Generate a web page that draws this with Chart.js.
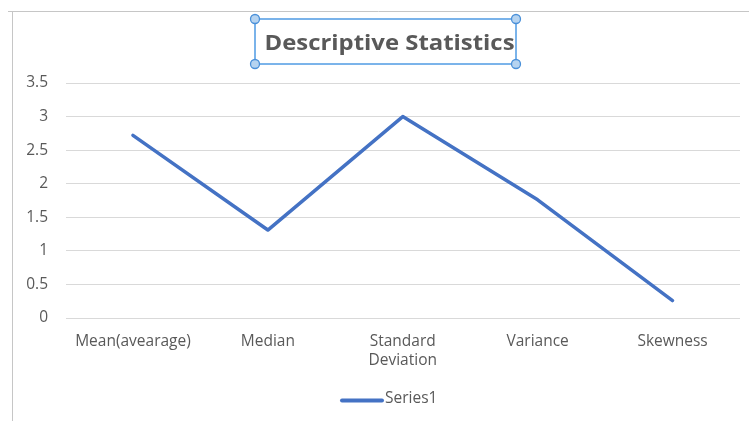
<!DOCTYPE html>
<html>
<head>
<meta charset="utf-8">
<script src="https://cdn.jsdelivr.net/npm/chart.js@4/dist/chart.umd.min.js"></script>
<style>
  html, body { margin: 0; padding: 0; background: #ffffff; }
  #wrap { width: 749px; height: 421px; position: relative; }
</style>
</head>
<body>
<div id="wrap"><canvas id="c" width="749" height="421"></canvas></div>
<script>
// Chart content
const chartTitle = 'Descriptive Statistics';
const categories = ['Mean(avearage)', 'Median', ['Standard', 'Deviation'], 'Variance', 'Skewness'];
const seriesName = 'Series1';
const seriesValues = [2.72, 1.31, 3.0, 1.76, 0.26];
const yTicks = [0, 0.5, 1, 1.5, 2, 2.5, 3, 3.5];

const labelColor = '#595959';
const lineColor = '#4472C4';
const fontFamily = '"Open Sans", "Noto Sans", sans-serif';
const tickFontSize = 15.5;

// Frame lines, the selected title box with its corner handles, and the legend
const frameAndTitle = {
  id: 'frameAndTitle',
  afterDraw(chart) {
    const ctx = chart.ctx;
    ctx.save();
    ctx.strokeStyle = '#c6c6c6';
    ctx.lineWidth = 1;
    ctx.beginPath();
    ctx.moveTo(8, 11.5);
    ctx.lineTo(749, 11.5);
    ctx.moveTo(12.5, 11.5);
    ctx.lineTo(12.5, 421);
    ctx.stroke();

    // title text, stretched slightly to span the box
    const cx = 389.5, cy = 43.5;
    ctx.fillStyle = labelColor;
    ctx.font = 'bold 22px ' + fontFamily;
    ctx.textAlign = 'center';
    ctx.textBaseline = 'middle';
    const w = ctx.measureText(chartTitle).width;
    const sx = 250 / w;
    ctx.save();
    ctx.translate(cx, cy);
    ctx.scale(sx, 1);
    ctx.fillText(chartTitle, 0, 0);
    ctx.restore();

    // selection rectangle
    const x0 = 255, x1 = 516, y0 = 19, y1 = 64;
    ctx.strokeStyle = '#4f9be3';
    ctx.lineWidth = 1.5;
    ctx.strokeRect(x0, y0, x1 - x0, y1 - y0);
    [[x0, y0], [x1, y0], [x0, y1], [x1, y1]].forEach(([hx, hy]) => {
      ctx.beginPath();
      ctx.arc(hx, hy, 4.5, 0, Math.PI * 2);
      ctx.fillStyle = '#b5d3f0';
      ctx.fill();
      ctx.lineWidth = 1.3;
      ctx.strokeStyle = '#4a90d9';
      ctx.stroke();
    });

    // legend: line sample followed by the series name
    const ds = chart.data.datasets[0];
    const ly = 399;
    ctx.strokeStyle = ds.borderColor;
    ctx.lineWidth = 4;
    ctx.lineCap = 'round';
    ctx.beginPath();
    ctx.moveTo(342, ly + 1.5);
    ctx.lineTo(382, ly + 1.5);
    ctx.stroke();
    ctx.fillStyle = labelColor;
    ctx.font = tickFontSize + 'px ' + fontFamily;
    ctx.textAlign = 'left';
    ctx.fillText(ds.label, 385, ly);
    ctx.restore();
  }
};

new Chart(document.getElementById('c'), {
  type: 'line',
  data: {
    labels: categories,
    datasets: [{
      label: seriesName,
      data: seriesValues,
      borderColor: lineColor,
      backgroundColor: lineColor,
      borderWidth: 3.5,
      borderCapStyle: 'round',
      borderJoinStyle: 'round',
      pointRadius: 0,
      pointHoverRadius: 0,
      tension: 0,
      fill: false
    }]
  },
  options: {
    responsive: false,
    animation: false,
    events: [],
    layout: { padding: { left: 12, right: 9, top: 83, bottom: 43 } },
    scales: {
      x: {
        offset: true,
        grid: { display: false },
        border: { display: false },
        ticks: {
          color: labelColor,
          font: { family: fontFamily, size: tickFontSize, lineHeight: 1.22 },
          padding: 6.5,
          maxRotation: 0,
          autoSkip: false
        },
        afterFit(scale) { scale.height = 60; }
      },
      y: {
        min: 0,
        max: 3.5,
        afterBuildTicks(scale) { scale.ticks = yTicks.map(v => ({ value: v })); },
        grid: { color: '#d9d9d9', lineWidth: 1, drawTicks: false },
        border: { display: false },
        ticks: {
          color: labelColor,
          font: { family: fontFamily, size: tickFontSize },
          padding: 17.5,
          callback: v => String(v)
        },
        afterFit(scale) { scale.width = 53.5; }
      }
    },
    plugins: {
      title: { display: false },
      tooltip: { enabled: false },
      legend: { display: false }
    }
  },
  plugins: [frameAndTitle]
});
</script>
</body>
</html>
